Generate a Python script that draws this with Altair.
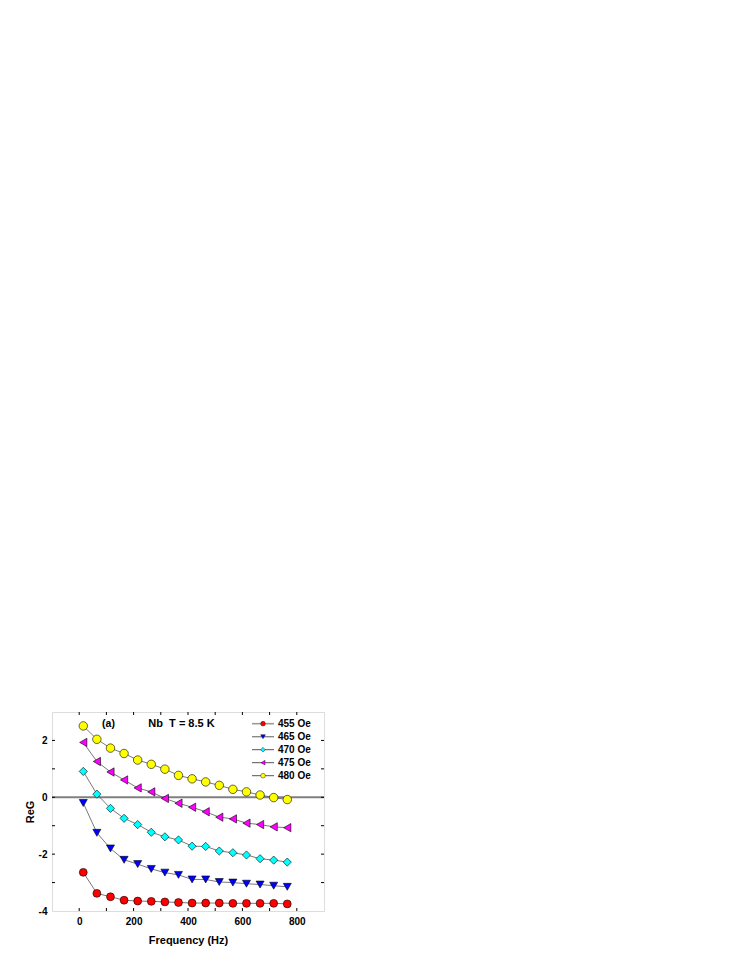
import altair as alt
import pandas as pd

# ---- data ----
freq = [15, 65, 115, 165, 215, 265, 315, 365, 415, 465, 515, 565, 615, 665, 715, 765]
reg_455 = [-2.64, -3.38, -3.50, -3.62, -3.65, -3.66, -3.68, -3.70, -3.72, -3.72, -3.72, -3.73, -3.73, -3.73, -3.73, -3.75]
reg_465 = [-0.20, -1.25, -1.80, -2.20, -2.35, -2.52, -2.65, -2.73, -2.89, -2.89, -2.98, -3.00, -3.04, -3.07, -3.11, -3.15]
reg_470 = [0.91, 0.11, -0.39, -0.74, -0.96, -1.23, -1.39, -1.50, -1.72, -1.73, -1.89, -1.95, -2.03, -2.16, -2.21, -2.28]
reg_475 = [1.93, 1.26, 0.89, 0.61, 0.33, 0.19, -0.04, -0.21, -0.35, -0.51, -0.70, -0.76, -0.91, -0.96, -1.04, -1.07]
reg_480 = [2.51, 2.04, 1.73, 1.54, 1.31, 1.16, 0.99, 0.77, 0.65, 0.54, 0.42, 0.28, 0.19, 0.08, -0.01, -0.08]

series = ["455 Oe", "465 Oe", "470 Oe", "475 Oe", "480 Oe"]
colors = ["#FF0000", "#0000FF", "#00FFFF", "#FF00FF", "#FFFF00"]
shapes = ["circle", "triangle-down", "diamond", "triangle-left", "circle"]
sizes = [62, 72, 80, 72, 58]
legend_line_colors = ["#9a9a9a", "#8a8a8a", "#555555", "#555555", "#555555"]
legend_line_widths = [1.6, 1.4, 1.0, 1.0, 1.0]

x_tick_values = [0, 100, 200, 300, 400, 500, 600, 700, 800]
x_label_values = [0, 200, 400, 600, 800]
y_tick_values = [-3, -2, -1, 0, 1, 2]
y_label_values = [-4, -2, 0, 2]
zero_line = [0]

x_title = "Frequency (Hz)"
y_title = "ReG"
panel_label = "(a)"
condition_label = "Nb\u00a0 T = 8.5 K"

# ---- tables ----
rows = []
for name, vals in zip(series, [reg_455, reg_465, reg_470, reg_475, reg_480]):
    for f, v in zip(freq, vals):
        rows.append({"freq": f, "reg": v, "series": name})
df = pd.DataFrame(rows)
df_xt = pd.DataFrame({"v": x_tick_values})
df_yt = pd.DataFrame({"v": y_tick_values})
df_zero = pd.DataFrame({"z": zero_line})

FONT = "Liberation Sans"
W, H = 272, 199
TL = 3

xs = alt.Scale(domain=[-100, 900], nice=False, zero=False)
ys = alt.Scale(domain=[-4, 3], nice=False, zero=False)
shape_scale = alt.Scale(domain=series, range=shapes)
fill_scale = alt.Scale(domain=series, range=colors)
size_scale = alt.Scale(domain=series, range=sizes)

x_axis = alt.Axis(values=x_label_values, ticks=False, domain=False, grid=False,
                  labelExpr="'' + datum.value",
                  labelFont=FONT, labelFontWeight="bold", labelFontSize=10, labelColor="black",
                  labelPadding=5, title=x_title, titleFont=FONT, titleFontWeight="bold",
                  titleFontSize=11, titleColor="black", titlePadding=8)
y_axis = alt.Axis(values=y_label_values, ticks=False, domain=False, grid=False,
                  labelExpr="'' + datum.value",
                  labelFont=FONT, labelFontWeight="bold", labelFontSize=10, labelColor="black",
                  labelPadding=5, title=y_title, titleFont=FONT, titleFontWeight="bold",
                  titleFontSize=11, titleColor="black", titlePadding=3)

base = alt.Chart(df)

points = base.mark_point(filled=True, stroke="black", strokeWidth=0.6, opacity=1).encode(
    x=alt.X("freq:Q", scale=xs, axis=x_axis),
    y=alt.Y("reg:Q", scale=ys, axis=y_axis),
    shape=alt.Shape("series:N", scale=shape_scale, legend=None),
    fill=alt.Fill("series:N", scale=fill_scale, legend=None),
    size=alt.Size("series:N", scale=size_scale, legend=None),
)

lines = base.mark_line(color="#555555", strokeWidth=0.8).encode(
    x=alt.X("freq:Q", scale=xs, axis=x_axis),
    y=alt.Y("reg:Q", scale=ys, axis=y_axis),
    detail="series:N",
)

zero = alt.Chart(df_zero).mark_rule(color="#808080", strokeWidth=2).encode(
    y=alt.Y("z:Q", scale=ys, axis=y_axis)
)

tick_bottom = alt.Chart(df_xt).mark_rule(color="black", strokeWidth=1).encode(
    x=alt.X("v:Q", scale=xs, axis=x_axis), y=alt.value(H), y2=alt.value(H - TL))
tick_top = alt.Chart(df_xt).mark_rule(color="black", strokeWidth=1).encode(
    x=alt.X("v:Q", scale=xs, axis=x_axis), y=alt.value(0), y2=alt.value(TL))
tick_left = alt.Chart(df_yt).mark_rule(color="black", strokeWidth=1).encode(
    y=alt.Y("v:Q", scale=ys, axis=y_axis), x=alt.value(0), x2=alt.value(TL))
tick_right = alt.Chart(df_yt).mark_rule(color="black", strokeWidth=1).encode(
    y=alt.Y("v:Q", scale=ys, axis=y_axis), x=alt.value(W), x2=alt.value(W - TL))

ann_a = alt.Chart(pd.DataFrame({"t": [panel_label]})).mark_text(
    font=FONT, fontWeight="bold", fontSize=10.5, baseline="middle", align="center", color="black"
).encode(text="t:N", x=alt.value(56.5), y=alt.value(11.7))
ann_b = alt.Chart(pd.DataFrame({"t": [condition_label]})).mark_text(
    font=FONT, fontWeight="bold", fontSize=11, baseline="middle", align="center", color="black"
).encode(text="t:N", x=alt.value(129.5), y=alt.value(11.7))

# manual legend (line segment + small marker + label), one row per series
legend_layers = []
for i, (name, col, shp) in enumerate(zip(series, colors, shapes)):
    ry = 11.7 + 13.0 * i
    row = pd.DataFrame({"series": [name]})
    legend_layers.append(alt.Chart(row).mark_rule(
        color=legend_line_colors[i], strokeWidth=legend_line_widths[i]
    ).encode(x=alt.value(200), x2=alt.value(222), y=alt.value(ry)))
    legend_layers.append(alt.Chart(row).mark_point(
        filled=True, fill=col, shape=shp, stroke="black", strokeWidth=0.4, opacity=1, size=22
    ).encode(x=alt.value(211), y=alt.value(ry)))
    legend_layers.append(alt.Chart(row).mark_text(
        font=FONT, fontWeight="bold", fontSize=10, align="left", baseline="middle", color="black"
    ).encode(x=alt.value(226), y=alt.value(ry), text="series:N"))

chart = alt.layer(
    zero, lines, points, tick_bottom, tick_top, tick_left, tick_right, ann_a, ann_b, *legend_layers
).properties(
    width=W, height=H,
    autosize=alt.AutoSizeParams(type="none"),
    padding={"left": 44, "top": 704, "right": 20, "bottom": 50},
).configure_view(stroke="black", strokeWidth=1).configure(background="white")

chart.save("out.html", embed_options={"renderer": "svg", "actions": False})
